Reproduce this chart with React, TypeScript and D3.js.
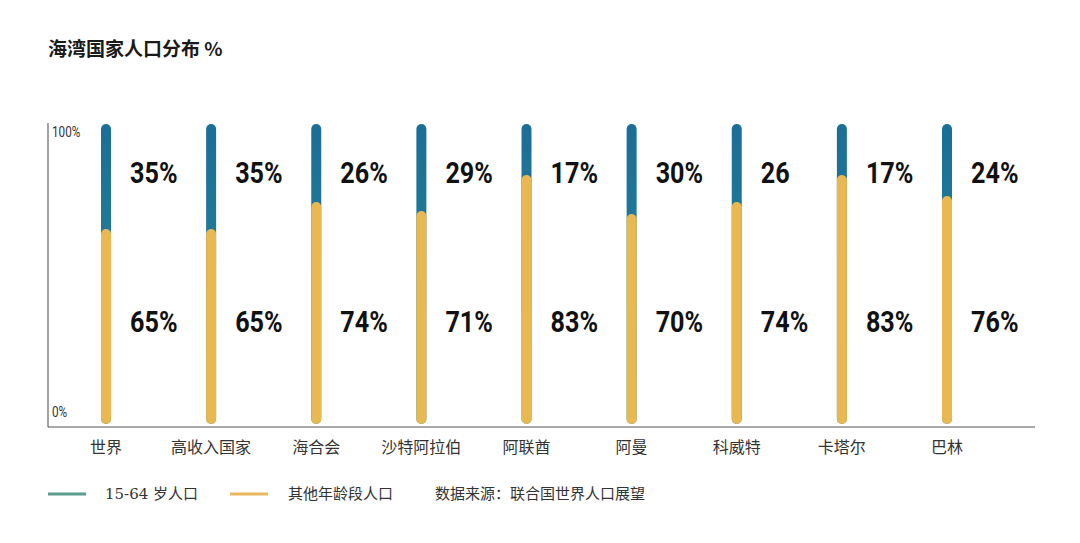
import * as d3 from "d3";

const categories = ["世界", "高收入国家", "海合会", "沙特阿拉伯", "阿联酋", "阿曼", "科威特", "卡塔尔", "巴林"];
const workingAge = [35, 35, 26, 29, 17, 30, 26, 17, 24];
const otherAges = [65, 65, 74, 71, 83, 70, 74, 83, 76];
const workingLabels = ["35%", "35%", "26%", "29%", "17%", "30%", "26", "17%", "24%"];
const otherLabels = ["65%", "65%", "74%", "71%", "83%", "70%", "74%", "83%", "76%"];
const yTicks = [0, 100];

const width = 1080;
const height = 543;
const numFont = "Roboto, 'Liberation Sans', sans-serif";
const cjkFont = "'Noto Sans CJK SC', 'Noto Sans', sans-serif";
const serifFont = "'DejaVu Serif', 'Liberation Serif', 'Noto Sans CJK SC', serif";

// narrow text: the original uses a condensed DIN-like face
const Narrow = ({x, y, size, weight, fill, children}: {x: number; y: number; size: number; weight: number; fill: string; children: string}) => (
    <text transform={`translate(${x},${y}) scale(0.84,1)`} fontFamily={numFont} fontSize={size} fontWeight={weight} fill={fill}>{children}</text>
);

export default function App() {
    const x = d3.scalePoint<string>().domain(categories).range([106, 947]);
    const y = d3.scaleLinear().domain([0, 100]).range([424, 124]);
    const barW = 10;

    return <svg width={width} height={height} viewBox={`0 0 ${width} ${height}`}
                style={{position: "absolute", left: 0, top: 0, display: "block", background: "#fff"}}>
        <defs>
            <linearGradient id="blueGrad" x1="0" y1="0" x2="0" y2="1">
                <stop offset="0%" stopColor="#1b6e96"/>
                <stop offset="100%" stopColor="#2a8c98"/>
            </linearGradient>
        </defs>

        {/* title */}
        <text x={48} y={56} fontFamily={cjkFont} fontSize={19} fontWeight={600} fill="#1a1a1a">海湾国家人口分布 %</text>

        {/* axes */}
        <line x1={48} x2={48} y1={123} y2={427} stroke="#666" strokeWidth={1.2}/>
        <line x1={48} x2={1035} y1={427} y2={427} stroke="#555" strokeWidth={1.2}/>
        {yTicks.map(t => (
            <Narrow key={t} x={52} y={y(t) + (t === 100 ? 13 : -7)} size={14} weight={400} fill="#333">{`${t}%`}</Narrow>
        ))}

        {/* bars */}
        {categories.map((c, i) => {
            const cx = x(c)!;
            return <g key={c}>
                <rect x={cx - barW / 2} y={y(workingAge[i] + otherAges[i])} width={barW}
                      height={y(0) - y(workingAge[i] + otherAges[i])} rx={barW / 2} fill="url(#blueGrad)"/>
                <rect x={cx - barW / 2} y={y(otherAges[i])} width={barW}
                      height={y(0) - y(otherAges[i])} rx={barW / 2} fill="#e9b850"/>
                <Narrow x={cx + 24} y={183} size={30} weight={700} fill="#111">{workingLabels[i]}</Narrow>
                <Narrow x={cx + 24} y={332} size={30} weight={700} fill="#111">{otherLabels[i]}</Narrow>
                <text x={cx} y={453} textAnchor="middle" fontFamily={cjkFont} fontSize={16} fill="#333">{c}</text>
            </g>;
        })}

        {/* legend */}
        <line x1={48} x2={86} y1={494} y2={494} stroke="#5a9e90" strokeWidth={3}/>
        <text x={105} y={499} fontFamily={serifFont} fontSize={15} fill="#333">15-64 岁人口</text>
        <line x1={230} x2={268} y1={494} y2={494} stroke="#e9b85c" strokeWidth={3}/>
        <text x={288} y={499} fontFamily={serifFont} fontSize={15} fill="#333">其他年龄段人口</text>
        <text x={435} y={499} fontFamily={serifFont} fontSize={15} fill="#333">数据来源：联合国世界人口展望</text>
    </svg>;
}
